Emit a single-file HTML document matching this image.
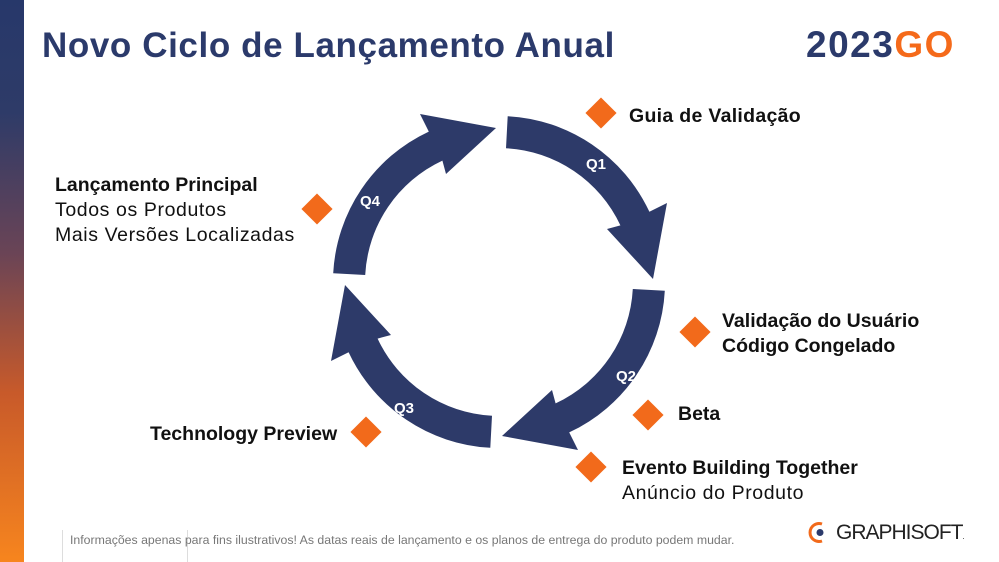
<!DOCTYPE html>
<html><head><meta charset="utf-8"><style>
body{margin:0;width:999px;height:562px;overflow:hidden;background:#fff;position:relative;font-family:"Liberation Sans",sans-serif}
.bar{position:absolute;left:0;top:0;width:24px;height:562px;background:linear-gradient(#27386a 0%,#2e3b68 20%,#6a4456 45%,#c85a2a 70%,#f7851e 100%)}
.t{position:absolute;white-space:nowrap;color:#111;font-size:19.5px;line-height:25px}
.r{letter-spacing:0.6px}
.b{font-weight:bold}
</style></head><body>
<div class="bar"></div>
<div class="t b" style="left:42px;top:25px;font-size:35px;line-height:42px;color:#2b3a6b;letter-spacing:0.6px">Novo Ciclo de Lançamento Anual</div>
<div class="t b" style="left:806px;top:24px;font-size:37px;line-height:42px;color:#2b3a6b;letter-spacing:1.5px">2023<span style="color:#f56a1a">GO</span></div>
<svg width="999" height="562" style="position:absolute;left:0;top:0">
<defs><path id="a" d="M507.7,116.2 A166,166 0 0 1 649.4,211.8 L667,203 L653,279 L607,229 L620.4,225.4 A134,134 0 0 0 506,148.2 Z" fill="#2d3a69"/></defs>
<use href="#a"/>
<use href="#a" transform="rotate(90 499 282)"/>
<use href="#a" transform="rotate(180 499 282)"/>
<use href="#a" transform="rotate(270 499 282)"/>
<g fill="#fff" font-weight="bold" font-size="15" font-family="Liberation Sans" text-anchor="middle">
<text x="596" y="169">Q1</text><text x="626" y="381">Q2</text><text x="404" y="413">Q3</text><text x="370" y="206">Q4</text></g>
<g fill="#f26a1b">
<rect x="590" y="102" width="22" height="22" transform="rotate(45 601 113)"/>
<rect x="306" y="198" width="22" height="22" transform="rotate(45 317 209)"/>
<rect x="684" y="321" width="22" height="22" transform="rotate(45 695 332)"/>
<rect x="637" y="404" width="22" height="22" transform="rotate(45 648 415)"/>
<rect x="580" y="456" width="22" height="22" transform="rotate(45 591 467)"/>
<rect x="355" y="421" width="22" height="22" transform="rotate(45 366 432)"/>
</g>
<line x1="62.5" y1="530" x2="62.5" y2="562" stroke="#ddd"/>
<line x1="187.5" y1="530" x2="187.5" y2="562" stroke="#ddd"/>
<path d="M822,524 A9,9 0 1 0 822,541" stroke="#f26a1b" stroke-width="3" fill="none"/>
<circle cx="820" cy="532.5" r="3.5" fill="#2b3a6b"/>
</svg>
<div class="t b" style="left:629px;top:104px;letter-spacing:0.3px">Guia de Validação</div>
<div class="t r" style="left:55px;top:173px"><b style="letter-spacing:0">Lançamento Principal</b><br>Todos os Produtos<br>Mais Versões Localizadas</div>
<div class="t b" style="left:722px;top:309px">Validação do Usuário<br>Código Congelado</div>
<div class="t b" style="left:678px;top:402px">Beta</div>
<div class="t r" style="left:622px;top:456px"><b style="letter-spacing:0">Evento Building Together</b><br>Anúncio do Produto</div>
<div class="t b" style="left:150px;top:422px">Technology Preview</div>
<div class="t" style="left:70px;top:533px;font-size:12.3px;line-height:14px;color:#777">Informações apenas para fins ilustrativos! As datas reais de lançamento e os planos de entrega do produto podem mudar.</div>
<div class="t" style="left:836px;top:520px;font-size:21px;line-height:26px;color:#222;letter-spacing:-1px">GRAPHISOFT<span style="font-size:8px">.</span></div>
</body></html>
